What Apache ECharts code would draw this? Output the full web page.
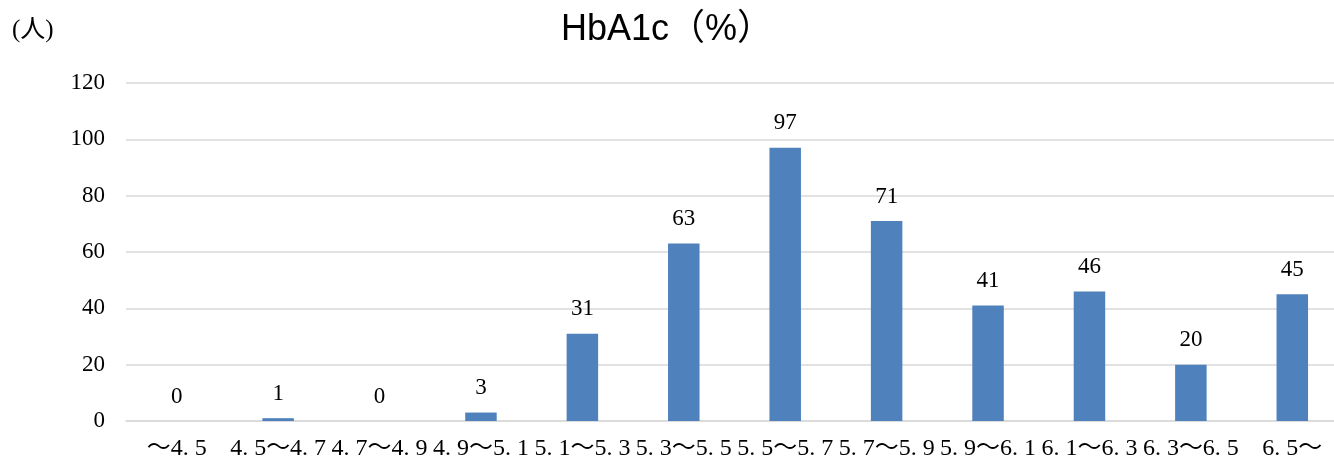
<!DOCTYPE html>
<html><head><meta charset="utf-8">
<script src="https://cdn.jsdelivr.net/npm/echarts@6/dist/echarts.min.js"></script>
<style>html,body{margin:0;padding:0;background:#fff}#c{width:1334px;height:461px}</style>
</head><body><div id="c"></div>
<script>
const categories = ['～4. 5','4. 5～4. 7','4. 7～4. 9','4. 9～5. 1','5. 1～5. 3','5. 3～5. 5','5. 5～5. 7','5. 7～5. 9','5. 9～6. 1','6. 1～6. 3','6. 3～6. 5','6. 5～'];
const counts = [0,1,0,3,31,63,97,71,41,46,20,45];
const yTicks = [0,20,40,60,80,100,120];
const serif = '"Liberation Serif","DejaVu Serif","Noto Sans CJK JP",serif';
const chart = echarts.init(document.getElementById('c'));
chart.setOption({
  animation:false,
  title:[{text:'HbA1c（%）',left:'center',top:7,textStyle:{fontFamily:'"Liberation Sans","Noto Sans CJK JP",sans-serif',fontSize:36,fontWeight:'normal',color:'#000'}},
         {text:'(人)',left:7,top:13,textStyle:{fontFamily:serif,fontSize:25,fontWeight:'normal',color:'#000'}}],
  grid:{left:126,width:1217,top:83,bottom:40,outerBoundsMode:'none',containLabel:false},
  xAxis:{type:'category',data:categories,axisTick:{show:false},axisLine:{lineStyle:{color:'#D9D9D9',width:1.5}},
    axisLabel:{interval:0,fontFamily:serif,fontSize:24,color:'#000',margin:16}},
  yAxis:{type:'value',min:yTicks[0],max:yTicks[yTicks.length-1],interval:20,axisLine:{show:false},axisTick:{show:false},
    splitLine:{lineStyle:{color:'#D9D9D9',width:1.5}},axisLabel:{fontFamily:serif,fontSize:23,color:'#000',margin:21}},
  series:[{type:'bar',data:counts,barWidth:31.5,itemStyle:{color:'#4F81BD'},
    label:{show:true,position:'top',distance:13,fontFamily:serif,fontSize:23,color:'#000'}}]
});
</script></body></html>
